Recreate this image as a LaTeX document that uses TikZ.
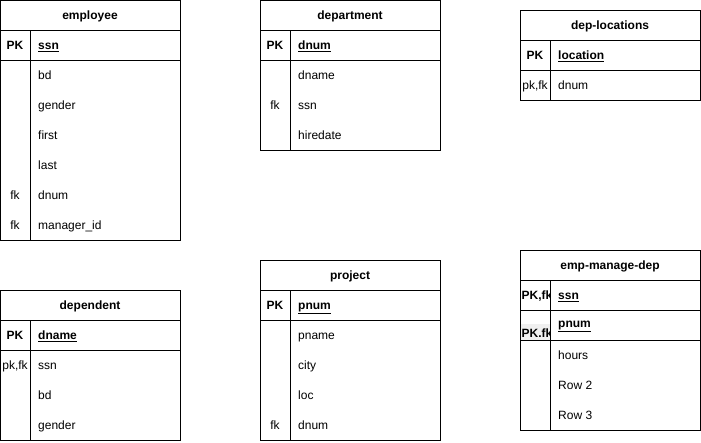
\documentclass[tikz,border=0pt]{standalone}
\usepackage{fontspec}
\setmainfont{Liberation Sans}

\begin{document}
\begin{tikzpicture}[x=1pt,y=-1pt,line join=miter,
  box/.style={draw=black,line width=1pt},
  txt/.style={inner sep=0pt,text height=8.6pt,text depth=0pt},
  title/.style={txt,font=\fontsize{12}{14}\selectfont\bfseries},
  keycol/.style={txt,font=\fontsize{12}{14}\selectfont\bfseries},
  fkcol/.style={txt,font=\fontsize{12}{14}\selectfont},
  pkfield/.style={txt,anchor=west,font=\fontsize{12}{14}\selectfont\bfseries},
  field/.style={txt,anchor=west,font=\fontsize{12}{14}\selectfont}]
\useasboundingbox (0,0) rectangle (701,442);

% employee
\draw[box] (0,0) rectangle (180,240);
\draw[box] (0,30) -- (180,30);
\draw[box] (0,60) -- (180,60);
\draw[box] (30,30) -- (30,240);
\node[title] (emp) at (90,15) {employee};
\node[keycol] (emppk) at (15,45) {PK};
\node[pkfield] (empssn) at (38,45) {\underline{ssn}};
\node[field] (empbd) at (38,75) {bd};
\node[field] (empgender) at (38,105) {gender};
\node[field] (empfirst) at (38,135) {first};
\node[field] (emplast) at (38,165) {last};
\node[fkcol] (empfka) at (15,195) {fk};
\node[field] (empdnum) at (38,195) {dnum};
\node[fkcol] (empfkb) at (15,225) {fk};
\node[field] (empmgr) at (38,225) {manager\_id};

% department
\draw[box] (260,0) rectangle (440,150);
\draw[box] (260,30) -- (440,30);
\draw[box] (260,60) -- (440,60);
\draw[box] (290,30) -- (290,150);
\node[title] (dep) at (350,15) {department};
\node[keycol] (deppk) at (275,45) {PK};
\node[pkfield] (depdnum) at (298,45) {\underline{dnum}};
\node[field] (depdname) at (298,75) {dname};
\node[fkcol] (depfk) at (275,105) {fk};
\node[field] (depssn) at (298,105) {ssn};
\node[field] (dephire) at (298,135) {hiredate};

% dep-locations
\draw[box] (520,10) rectangle (700,100);
\draw[box] (520,40) -- (700,40);
\draw[box] (520,70) -- (700,70);
\draw[box] (550,40) -- (550,100);
\node[title] (loc) at (610,25) {dep-locations};
\node[keycol] (locpk) at (535,55) {PK};
\node[pkfield] (locloc) at (558,55) {\underline{location}};
\node[fkcol] (locfk) at (535,85) {pk,fk};
\node[field] (locdnum) at (558,85) {dnum};

% dependent
\draw[box] (0,290) rectangle (180,440);
\draw[box] (0,320) -- (180,320);
\draw[box] (0,350) -- (180,350);
\draw[box] (30,320) -- (30,440);
\node[title] (dpt) at (90,305) {dependent};
\node[keycol] (dptpk) at (15,335) {PK};
\node[pkfield] (dptdname) at (38,335) {\underline{dname}};
\node[fkcol] (dptfk) at (15,365) {pk,fk};
\node[field] (dptssn) at (38,365) {ssn};
\node[field] (dptbd) at (38,395) {bd};
\node[field] (dptgender) at (38,425) {gender};

% project
\draw[box] (260,260) rectangle (440,440);
\draw[box] (260,290) -- (440,290);
\draw[box] (260,320) -- (440,320);
\draw[box] (290,290) -- (290,440);
\node[title] (prj) at (350,275) {project};
\node[keycol] (prjpk) at (275,305) {PK};
\node[pkfield] (prjpnum) at (298,305) {\underline{pnum}};
\node[field] (prjpname) at (298,335) {pname};
\node[field] (prjcity) at (298,365) {city};
\node[field] (prjloc) at (298,395) {loc};
\node[fkcol] (prjfk) at (275,425) {fk};
\node[field] (prjdnum) at (298,425) {dnum};

% emp-manage-dep
\fill[black!6] (521,324) rectangle (549.5,339.5);
\begin{scope}
\clip (520,280) rectangle (549.5,340);
\node[pkfield] (empkA) at (521.5,295) {PK,fk};
\node[pkfield] (empkB) at (521.5,333) {PK.fk};
\end{scope}
\draw[box] (520,250) rectangle (700,430);
\draw[box] (520,280) -- (700,280);
\draw[box] (520,310) -- (700,310);
\draw[box] (520,340) -- (700,340);
\draw[box] (550,280) -- (550,430);
\node[title] (emd) at (610,265) {emp-manage-dep};
\node[pkfield] (emdssn) at (558,295) {\underline{ssn}};
\node[pkfield] (emdpnum) at (558,323) {\underline{pnum}};
\node[field] (emdhours) at (558,355) {hours};
\node[field] (emdrowb) at (558,385) {Row 2};
\node[field] (emdrowc) at (558,415) {Row 3};
\end{tikzpicture}
\end{document}
